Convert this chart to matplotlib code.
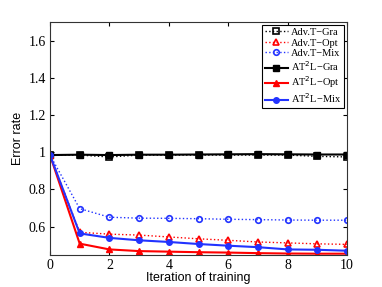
import matplotlib
matplotlib.use("Agg")
import matplotlib.pyplot as plt

# Data
iters = [0, 1, 2, 3, 4, 5, 6, 7, 8, 9, 10]

advt_gra = [0.985, 0.985, 0.975, 0.985, 0.985, 0.985, 0.985, 0.985, 0.985, 0.978, 0.975]
advt_opt = [0.985, 0.57, 0.56, 0.555, 0.545, 0.535, 0.527, 0.518, 0.513, 0.508, 0.505]
advt_mix = [0.985, 0.697, 0.651, 0.646, 0.645, 0.643, 0.640, 0.638, 0.636, 0.635, 0.635]
at2l_gra = [0.985, 0.987, 0.985, 0.987, 0.987, 0.988, 0.989, 0.99, 0.989, 0.988, 0.988]
at2l_opt = [0.985, 0.509, 0.478, 0.469, 0.466, 0.463, 0.461, 0.458, 0.456, 0.455, 0.455]
at2l_mix = [0.985, 0.564, 0.54, 0.527, 0.518, 0.507, 0.498, 0.49, 0.478, 0.476, 0.471]

x_ticks = [0, 2, 4, 6, 8, 10]
y_ticks = [0.6, 0.8, 1.0, 1.2, 1.4, 1.6]
y_tick_labels = ["0.6", "0.8", "1", "1.2", "1.4", "1.6"]

serif = ["Liberation Serif", "DejaVu Serif"]
sans = ["Liberation Sans", "DejaVu Sans"]

fig = plt.figure(figsize=(3.82, 2.87), dpi=100)
ax = fig.add_axes([50 / 382, 1 - 255 / 287, 297 / 382, 233 / 287])

# Adv.T: dotted lines with open markers
ax.plot(iters, advt_gra, ':', color='k', lw=1, marker='s', ms=4, mfc='none', mew=1.2,
        label='Adv.T\u2212Gra')
ax.plot(iters, advt_opt, ':', color='r', lw=1, marker='^', ms=4.5, mfc='none', mew=1.2,
        label='Adv.T\u2212Opt')
ax.plot(iters, advt_mix, ':', color='#2233ff', lw=1, marker='o', ms=4, mfc='none', mew=1.2,
        label='Adv.T\u2212Mix')
# AT2L: solid lines with filled markers
ax.plot(iters, at2l_gra, '-', color='k', lw=1.5, marker='s', ms=4,
        label='AT$^2$L\u2212Gra')
ax.plot(iters, at2l_opt, '-', color='r', lw=1.5, marker='^', ms=4.5,
        label='AT$^2$L\u2212Opt')
ax.plot(iters, at2l_mix, '-', color='#2233ff', lw=1.5, marker='o', ms=4,
        label='AT$^2$L\u2212Mix')

ax.set_xlim(0, 10)
ax.set_ylim(0.448, 1.70)
ax.set_xticks(x_ticks)
ax.set_yticks(y_ticks)
ax.set_yticklabels(y_tick_labels)
ax.tick_params(direction='in', top=True, right=True, length=3, labelsize=10, pad=3)
for lab in ax.get_xticklabels() + ax.get_yticklabels():
    lab.set_family(serif)
for sp in ax.spines.values():
    sp.set_color('#333333')

ax.set_xlabel("Iteration of training", family=sans, fontsize=9, labelpad=0)
ax.set_ylabel("Error rate", family=sans, fontsize=9, labelpad=3)

leg = ax.legend(loc='upper right', prop={'family': serif, 'size': 7.5}, fancybox=False,
                edgecolor='k', framealpha=1, borderaxespad=0.3, handlelength=2.2,
                labelspacing=0.12, borderpad=0.25, handletextpad=0.3)
leg.get_frame().set_linewidth(0.8)

fig.savefig("out.png", dpi=100)
